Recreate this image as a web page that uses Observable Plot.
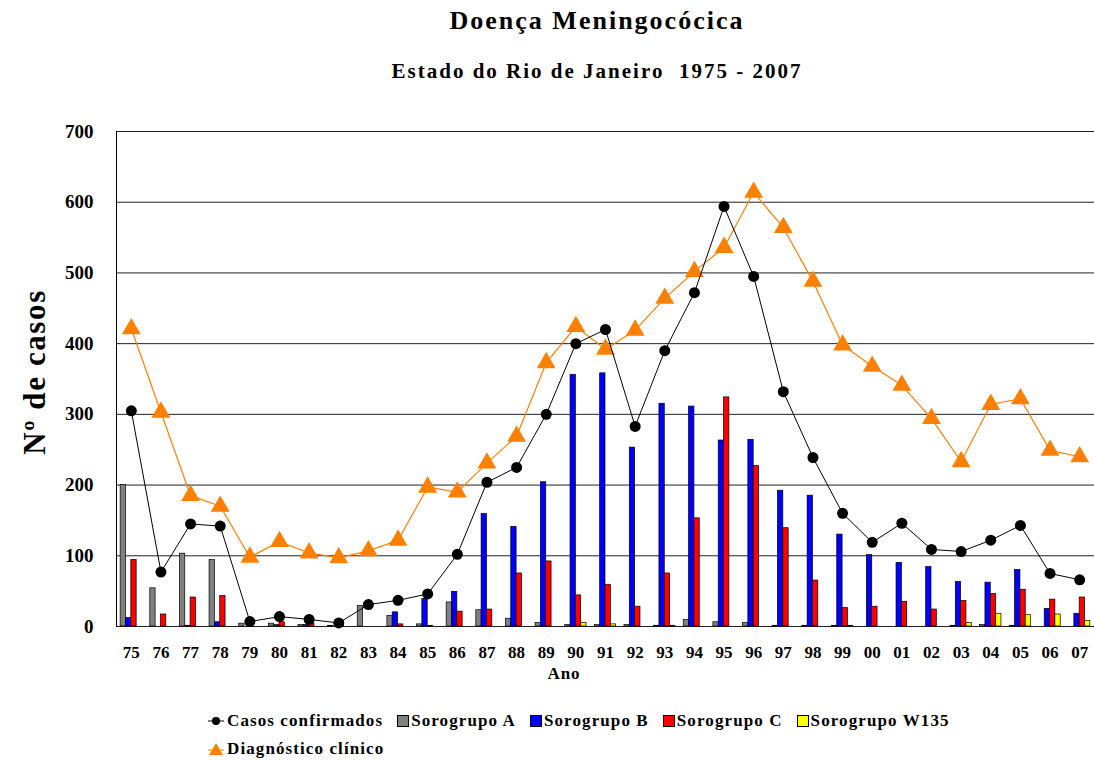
<!DOCTYPE html>
<html>
<head>
<meta charset="utf-8">
<script src="https://cdn.jsdelivr.net/npm/d3@7"></script>
<script src="https://cdn.jsdelivr.net/npm/@observablehq/plot@0.6"></script>
<style>
  body { margin: 0; background: #fff; font-family: "Liberation Serif", "DejaVu Serif", serif; }
  #wrap { position: relative; width: 1094px; height: 760px; }
  .title { position: absolute; left: 100px; width: 994px; text-align: center; font-weight: bold; color: #000; z-index: 2; }
  #t1 { top: 6px; font-size: 26px; letter-spacing: 2px; }
  #t2 { top: 59px; font-size: 21px; letter-spacing: 2px; }
  #ylab { position: absolute; left: 35px; top: 372px; transform: translate(-50%, -50%) rotate(-90deg); font-size: 31px; font-weight: bold; white-space: nowrap; z-index: 2; letter-spacing: 1.6px; }
  #xlab { position: absolute; left: 464px; width: 200px; text-align: center; top: 664px; font-size: 17px; font-weight: bold; z-index: 2; letter-spacing: 1px; }
  #chart { position: absolute; left: 0; top: 100px; z-index: 1; }
  #chart svg text { font-weight: bold; font-family: "Liberation Serif", serif; }
  .legend { position: absolute; left: 207px; font-size: 17px; font-weight: bold; display: flex; align-items: center; white-space: nowrap; letter-spacing: 1.1px; z-index: 2; }
  .item { display: flex; align-items: center; margin-right: 14px; }
  .sw { width: 12px; height: 12px; border: 1px solid #000; margin-right: 2px; box-sizing: border-box; }
</style>
</head>
<body>
<div id="wrap">
  <div class="title" id="t1">Doença Meningocócica</div>
  <div class="title" id="t2">Estado do Rio de Janeiro&nbsp; 1975 - 2007</div>
  <div id="chart"></div>
  <div id="ylab">Nº de casos</div>
  <div id="xlab">Ano</div>
  <div class="legend" id="leg1" style="top:711px"></div>
  <div class="legend" id="leg2" style="top:739px"></div>
</div>
<script>
const years = ["75","76","77","78","79","80","81","82","83","84","85","86","87","88","89","90","91","92","93","94","95","96","97","98","99","00","01","02","03","04","05","06","07"];
const confirmados = [305,77,145,142,7,14,10,5,31,37,46,102,204,225,300,400,420,283,390,472,594,495,332,239,160,119,146,109,106,122,143,75,66];
const clinico = [421,303,185,170,98,120,104,97,107,122,197,190,231,269,373,424,392,419,464,502,536,614,564,488,398,368,341,294,233,314,322,249,240];
const sorogrupoA = [200,54,103,94,4,4,2,1,29,15,3,34,23,11,5,2,2,2,1,9,6,5,1,1,1,0,0,0,1,2,1,0,0];
const sorogrupoB = [12,0,1,6,0,2,2,0,0,20,39,49,159,141,204,356,358,253,315,311,263,264,192,185,130,101,90,84,63,62,80,25,18];
const sorogrupoC = [94,17,41,43,0,6,4,1,0,3,1,21,24,75,92,44,59,28,75,153,324,227,139,65,26,28,35,24,36,46,52,38,41];
const sorogrupoW135 = [0,0,0,0,0,0,0,0,0,0,0,0,0,0,0,5,3,0,1,0,0,0,0,0,1,0,0,0,5,18,16,17,8];
const yTicks = [0,100,200,300,400,500,600,700];

const seriesNames = ["Sorogrupo A","Sorogrupo B","Sorogrupo C","Sorogrupo W135"];
const seriesVals = [sorogrupoA, sorogrupoB, sorogrupoC, sorogrupoW135];
const seriesColors = ["#808080","#0000FF","#FF0000","#FFFF00"];

const rows = years.map((y, i) => ({year: y, confirmados: confirmados[i], clinico: clinico[i]}));

const W = 1094, mL = 116, mR = 0;
const bw = (W - mL - mR) / years.length;
const groupW = 0.72 * bw, barW = groupW / 4, left0 = (bw - groupW) / 2;

const barMarks = seriesVals.map((vals, k) =>
  Plot.barY(years.map((y, i) => ({year: y, v: vals[i]})), {
    x: "year", y: "v", fill: seriesColors[k], stroke: "#000", strokeWidth: 0.7,
    insetLeft: left0 + k * barW, insetRight: bw - left0 - (k + 1) * barW
  })
);

const chart = Plot.plot({
  width: W, height: 590,
  marginLeft: mL, marginRight: mR, marginTop: 31, marginBottom: 64,
  x: {type: "band", domain: years, paddingInner: 0, paddingOuter: 0, round: false},
  y: {domain: [0, 700]},
  style: {fontFamily: "Liberation Serif, serif", color: "#000", background: "#fff"},
  marks: [
    Plot.ruleY(yTicks, {stroke: "#222", strokeWidth: 1}),
    ...barMarks,
    Plot.ruleX([years[0]], {y1: 0, y2: 700, dx: -bw / 2, stroke: "#000", strokeWidth: 1}),
    Plot.axisY(yTicks, {tickSize: 0, tickPadding: 23, fontSize: 19, label: null}),
    Plot.axisX({tickSize: 0, tickPadding: 19, fontSize: 17, label: null}),
    Plot.line(rows, {x: "year", y: "clinico", stroke: "#FF8000", strokeWidth: 1.2}),
    Plot.dot(rows, {x: "year", y: "clinico", symbol: "triangle", fill: "#FF8000", r: 7}),
    Plot.line(rows, {x: "year", y: "confirmados", stroke: "#000", strokeWidth: 1}),
    Plot.dot(rows, {x: "year", y: "confirmados", fill: "#000", r: 5.5})
  ]
});
document.getElementById("chart").appendChild(chart);

// legend
const leg1 = document.getElementById("leg1");
const mk = (html, label) => { const d = document.createElement("div"); d.className = "item"; d.innerHTML = html + "<span>" + label + "</span>"; return d; };
leg1.appendChild(mk('<svg width="18" height="12" style="margin-right:2px"><line x1="1" y1="6" x2="17" y2="6" stroke="#000"/><circle cx="9" cy="6" r="4" fill="#000"/></svg>', "Casos confirmados"));
seriesNames.forEach((n, k) => leg1.appendChild(mk('<div class="sw" style="background:' + seriesColors[k] + '"></div>', n)));
document.getElementById("leg2").appendChild(mk('<svg width="18" height="14" style="margin-right:2px"><line x1="1" y1="8" x2="17" y2="8" stroke="#FF8000"/><path d="M9,1 L16,13 L2,13 Z" fill="#FF8000"/></svg>', "Diagnóstico clínico"));
</script>
</body>
</html>
